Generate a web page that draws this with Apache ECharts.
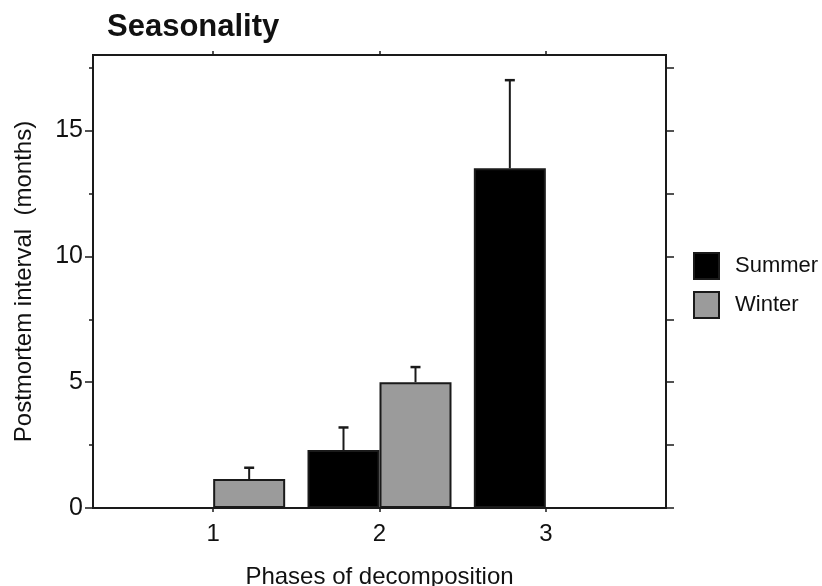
<!DOCTYPE html>
<html>
<head>
<meta charset="utf-8">
<script src="https://cdn.jsdelivr.net/npm/echarts@6/dist/echarts.min.js"></script>
<style>
  html, body { margin: 0; padding: 0; background: #fff; }
  #chart { width: 822px; height: 586px; }
</style>
</head>
<body>
<div id="chart"></div>
<script>
// data
const phases = ["1", "2", "3"];
const summerMean = [null, 2.3, 13.5];
const summerErr = [null, 3.2, 17.0];
const winterMean = [1.15, 5.0, null];
const winterErr = [1.6, 5.6, null];
const majorTicks = [0, 5, 10, 15];
const minorTicks = [2.5, 7.5, 12.5, 17.5];
const allTicks = [0, 2.5, 5, 7.5, 10, 12.5, 15, 17.5];

const FONT = "Liberation Sans, Arial, Helvetica, sans-serif";
const BAR_W = 72;
const INK = "#1a1a1a";

const errData = [];
summerMean.forEach((m, i) => { if (m != null) errData.push([i, m, summerErr[i], -1]); });
winterMean.forEach((m, i) => { if (m != null) errData.push([i, m, winterErr[i], 1]); });

const chart = echarts.init(document.getElementById("chart"));

const option = {
  animation: false,
  backgroundColor: "#fff",
  title: {
    text: "Seasonality",
    left: 107,
    top: 12,
    padding: 0,
    textStyle: { fontFamily: FONT, fontSize: 31, fontWeight: "bold", color: "#111" },
  },
  legend: {
    orient: "vertical",
    left: 693,
    top: 252,
    padding: 0,
    itemWidth: 25,
    itemHeight: 26,
    itemGap: 11,
    icon: "rect",
    data: ["Summer", "Winter"],
    textStyle: { fontFamily: FONT, fontSize: 22, color: "#111", padding: [4, 0, 0, 11] },
  },
  grid: [
    // frame
    { left: 93, right: 156, top: 55, bottom: 78, outerBoundsMode: "none", show: true, borderColor: INK, borderWidth: 2, backgroundColor: "transparent" },
    // data area (category bands of ~166px)
    { left: 130, right: 193, top: 55, bottom: 78, outerBoundsMode: "none" },
  ],
  xAxis: [
    { gridIndex: 0, type: "value", show: false },
    {
      gridIndex: 1,
      type: "category",
      data: phases,
      axisLine: { show: false },
      axisTick: { show: true, alignWithLabel: true, length: 4, lineStyle: { color: INK, width: 1.5 } },
      axisLabel: { fontFamily: FONT, fontSize: 24, color: "#111", margin: 14 },
      name: "Phases of decomposition",
      nameLocation: "middle",
      nameGap: 57,
      nameTextStyle: { fontFamily: FONT, fontSize: 24, color: "#111" },
    },
    {
      gridIndex: 1,
      type: "category",
      position: "top",
      data: phases,
      axisLine: { show: false },
      axisTick: { show: true, alignWithLabel: true, length: 4, lineStyle: { color: INK, width: 1.5 } },
      axisLabel: { show: false },
    },
  ],
  yAxis: [
    {
      gridIndex: 0,
      type: "value",
      min: 0,
      max: 18,
      axisLine: { show: false },
      splitLine: { show: false },
      axisTick: { show: true, length: 8, customValues: majorTicks, lineStyle: { color: INK, width: 1.5 } },
      axisLabel: { fontFamily: FONT, fontSize: 25, color: "#111", margin: 10, customValues: majorTicks },
      name: "Postmortem interval  (months)",
      nameLocation: "middle",
      nameGap: 57,
      nameTextStyle: { fontFamily: FONT, fontSize: 24, color: "#111" },
    },
    {
      gridIndex: 0,
      type: "value",
      position: "left",
      min: 0,
      max: 18,
      axisLine: { show: false },
      splitLine: { show: false },
      axisTick: { show: true, length: 4, customValues: minorTicks, lineStyle: { color: INK, width: 1.5 } },
      axisLabel: { show: false },
    },
    {
      gridIndex: 0,
      type: "value",
      position: "right",
      min: 0,
      max: 18,
      axisLine: { show: false },
      splitLine: { show: false },
      axisTick: { show: true, length: 8, customValues: allTicks, lineStyle: { color: INK, width: 1.5 } },
      axisLabel: { show: false },
    },
    { gridIndex: 1, type: "value", min: 0, max: 18, show: false },
  ],
  series: [
    {
      name: "Summer",
      type: "bar",
      xAxisIndex: 1,
      yAxisIndex: 3,
      barWidth: BAR_W,
      barGap: "0%",
      data: summerMean.map((v) => (v == null ? "-" : v)),
      itemStyle: { color: "#000", borderColor: INK, borderWidth: 2 },
    },
    {
      name: "Winter",
      type: "bar",
      xAxisIndex: 1,
      yAxisIndex: 3,
      barWidth: BAR_W,
      barGap: "0%",
      data: winterMean.map((v) => (v == null ? "-" : v)),
      itemStyle: { color: "#9b9b9b", borderColor: INK, borderWidth: 2 },
    },
    {
      type: "custom",
      xAxisIndex: 1,
      yAxisIndex: 3,
      z: 5,
      data: errData,
      renderItem: function (params, api) {
        const base = api.coord([api.value(0), api.value(1)]);
        const top = api.coord([api.value(0), api.value(2)]);
        const x = base[0] + (api.value(3) * BAR_W) / 2;
        return {
          type: "group",
          children: [
            { type: "line", shape: { x1: x, y1: base[1], x2: x, y2: top[1] }, style: { stroke: INK, lineWidth: 2 } },
            { type: "line", shape: { x1: x - 5, y1: top[1], x2: x + 5, y2: top[1] }, style: { stroke: INK, lineWidth: 2.5 } },
          ],
        };
      },
    },
  ],
};

chart.setOption(option);
</script>
</body>
</html>
